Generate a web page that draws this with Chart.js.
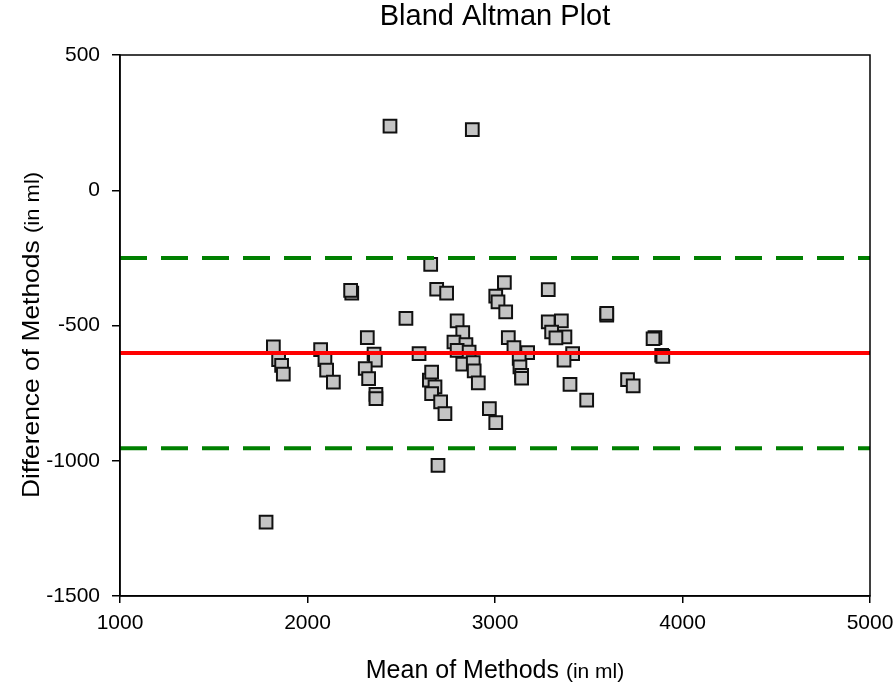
<!DOCTYPE html>
<html>
<head>
<meta charset="utf-8">
<script src="https://cdn.jsdelivr.net/npm/chart.js@4/dist/chart.umd.min.js"></script>
<style>
  html, body { margin: 0; padding: 0; background: #fff; }
  #wrap { width: 896px; height: 687px; }
</style>
</head>
<body>
<div id="wrap"><canvas id="c" width="896" height="687"></canvas></div>
<script>
// ---- data ----
const chartTitle = "Bland Altman Plot";
const xTitleMain = "Mean of Methods";
const yTitleMain = "Difference of Methods";
const unitText = "(in ml)";

const meanOfMethods = [
  2440, 2879,
  2657, 2236, 2230, 2689, 2742, 2525, 2319,
  1818, 1846, 1862, 1871,
  2070, 2093, 2102, 2138,
  2355, 2362, 2308, 2326, 2365, 2365,
  2595, 2650, 2662, 2680, 2662, 2710, 2733, 2696,
  3050, 3284, 3004, 3016, 3057, 3596, 3596,
  2798, 3284, 3354, 2828, 3302, 3071, 3853, 3843, 3373, 3325,
  2781, 2845, 2798, 3101, 3174, 2862, 3414, 3889, 3895,
  3129, 3368, 2828, 2884, 3133, 2889, 3142, 3142,
  2911, 3400, 3707, 3737, 3489, 2970, 3004,
  1779
];
const differenceOfMethods = [
  237, 224,
  -274, -380, -370, -366, -380, -474, -545,
  -579, -626, -647, -680,
  -589, -626, -665, -709,
  -606, -628, -659, -696, -755, -770,
  -604, -702, -672, -727, -752, -782, -826, -1017,
  -341, -367, -391, -413, -450, -462, -455,
  -483, -487, -483, -526, -524, -545, -545, -549, -542, -546,
  -561, -571, -592, -582, -600, -598, -604, -610, -614,
  -622, -628, -643, -637, -653, -668, -684, -695,
  -712, -718, -700, -723, -776, -807, -859,
  -1227
];
const meanDifference = -602;
const upperLimit = -250;
const lowerLimit = -954;
const xRange = [1000, 5000];
const yRange = [-1500, 500];
const xStep = 1000;
const yStep = 500;

// ---- build ----
const FONT = "'Liberation Sans', Arial, Helvetica, sans-serif";
const points = meanOfMethods.map((x, i) => ({ x: x, y: differenceOfMethods[i] }));
const hLine = v => [{ x: xRange[0], y: v }, { x: xRange[1], y: v }];

function drawMixed(ctx, main, unit, cx, cy, bigF, smallF) {
  ctx.font = bigF; const w1 = ctx.measureText(main + " ").width;
  ctx.font = smallF; const w2 = ctx.measureText(unit).width;
  const sx = cx - (w1 + w2) / 2;
  ctx.textAlign = 'left';
  ctx.textBaseline = 'alphabetic';
  ctx.font = bigF; ctx.fillText(main + " ", sx, cy);
  ctx.font = smallF; ctx.fillText(unit, sx + w1, cy);
}

const decor = {
  id: 'decor',
  afterDraw(chart) {
    const ctx = chart.ctx;
    const a = chart.chartArea;
    ctx.save();
    ctx.strokeStyle = '#000';
    ctx.lineWidth = 1.5;
    ctx.strokeRect(a.left, a.top, a.right - a.left, a.bottom - a.top);
    ctx.fillStyle = '#000';
    // title
    ctx.font = "29px " + FONT;
    ctx.textAlign = 'center';
    ctx.textBaseline = 'alphabetic';
    ctx.fillText(chartTitle, (a.left + a.right) / 2, 25);
    // x title
    drawMixed(ctx, xTitleMain, unitText, (a.left + a.right) / 2, 678, "25px " + FONT, "21px " + FONT);
    // y title
    ctx.save();
    ctx.translate(39, 335);
    ctx.rotate(-Math.PI / 2);
    ctx.scale(1.1, 1);
    drawMixed(ctx, yTitleMain, unitText, 0, 0, "24px " + FONT, "20px " + FONT);
    ctx.restore();
    ctx.restore();
  }
};

new Chart(document.getElementById('c'), {
  type: 'scatter',
  data: {
    datasets: [
      { type: 'line', data: hLine(meanDifference), borderColor: '#ff0000', borderWidth: 4,
        pointRadius: 0, order: 0 },
      { type: 'line', data: hLine(upperLimit), borderColor: '#008000', borderWidth: 4,
        borderDash: [27, 14], pointRadius: 0, order: 0 },
      { type: 'line', data: hLine(lowerLimit), borderColor: '#008000', borderWidth: 4,
        borderDash: [27, 14], pointRadius: 0, order: 0 },
      { data: points, pointStyle: 'rect', pointRadius: 9, pointBackgroundColor: '#c4c4c4',
        pointBorderColor: '#111', pointBorderWidth: 2, order: 1 }
    ]
  },
  options: {
    responsive: false,
    animation: false,
    events: [],
    layout: { padding: { top: 55, right: 26, left: 0, bottom: 0 } },
    plugins: { legend: { display: false }, tooltip: { enabled: false }, title: { display: false } },
    scales: {
      x: {
        type: 'linear', min: xRange[0], max: xRange[1],
        ticks: { stepSize: xStep, color: '#000', font: { size: 21, family: FONT }, padding: 8, maxRotation: 0,
                 callback: v => String(v) },
        grid: { drawOnChartArea: false, drawTicks: true, tickLength: 7, color: '#000', lineWidth: 1.5 },
        border: { color: '#000', width: 1.5 },
        afterFit(s) { s.height = 91; s.paddingLeft = 0; s.paddingRight = 0; }
      },
      y: {
        type: 'linear', min: yRange[0], max: yRange[1],
        ticks: { stepSize: yStep, color: '#000', font: { size: 21, family: FONT }, padding: 12,
                 callback: v => String(v) },
        grid: { drawOnChartArea: false, drawTicks: true, tickLength: 8, color: '#000', lineWidth: 1.5 },
        border: { color: '#000', width: 1.5 },
        afterFit(s) { s.width = 120; s.paddingTop = 0; s.paddingBottom = 0; }
      }
    }
  },
  plugins: [decor]
});
</script>
</body>
</html>
